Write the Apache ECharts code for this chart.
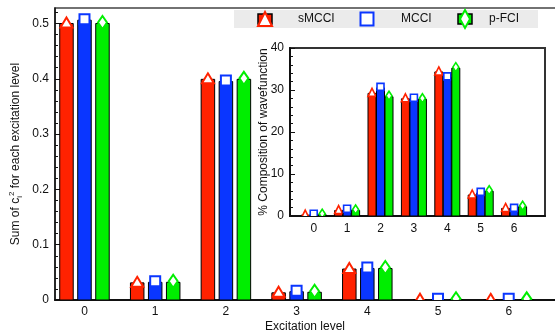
<!DOCTYPE html>
<html>
<head>
<meta charset="utf-8">
<script src="https://cdn.jsdelivr.net/npm/echarts@6/dist/echarts.min.js"></script>
<style>
  html, body { margin: 0; padding: 0; background: #fff; }
  #chart { width: 555px; height: 331px; }
</style>
</head>
<body>
<div id="chart"></div>
<script>
// Excitation levels (x categories)
const levels = [0, 1, 2, 3, 4, 5, 6];
const seriesNames = ['sMCCI', 'MCCI', 'p-FCI'];

// Sum of c_i^2 for each excitation level
const sumSMCCI = [0.500, 0.031, 0.399, 0.013, 0.056, 0.0005, 0.0003];
const sumMCCI  = [0.506, 0.032, 0.395, 0.015, 0.057, 0.0005, 0.0003];
const sumPFCI  = [0.500, 0.032, 0.399, 0.014, 0.057, 0.0005, 0.0003];

// % composition of the wavefunction (inset)
const pctSMCCI = [0.2, 1.3, 29.2, 27.9, 34.3, 5.0, 1.8];
const pctMCCI  = [0.3, 1.5, 30.5, 27.9, 33.0, 5.5, 1.7];
const pctPFCI  = [0.3, 1.3, 28.4, 27.8, 35.2, 5.9, 2.2];

const mainTicks  = [0, 0.1, 0.2, 0.3, 0.4, 0.5];
const insetTicks = [0, 10, 20, 30, 40];

const colors  = ['#ff2200', '#0a36ff', '#00ee00'];
const markers = ['triangle', 'rect', 'diamond'];
const FONT = '"Liberation Sans", Arial, Helvetica, sans-serif';

function markerEl(kind, cx, cy, s, color) {
  const style = { fill: '#fff', stroke: color, lineWidth: s.lw };
  if (kind === 'triangle') {
    return { type: 'polygon', shape: { points: [[cx, cy - s.th / 2], [cx + s.tw / 2, cy + s.th / 2], [cx - s.tw / 2, cy + s.th / 2]] }, style };
  }
  if (kind === 'rect') {
    return { type: 'rect', shape: { x: cx - s.sq / 2, y: cy - s.sq / 2, width: s.sq, height: s.sq }, style };
  }
  return { type: 'polygon', shape: { points: [[cx, cy - s.dh / 2], [cx + s.dw / 2, cy], [cx, cy + s.dh / 2], [cx - s.dw / 2, cy]] }, style };
}

// Bar with a hollow marker on its top, offset inside the group by series index
function barRenderer(si, barW, step, s) {
  return function (params, api) {
    const x = api.value(0), v = api.value(1);
    const base = api.coord([x, 0]);
    const top = api.coord([x, v]);
    const cx = base[0] + (si - 1) * step;
    return {
      type: 'group',
      children: [
        { type: 'rect', shape: { x: cx - barW / 2, y: top[1], width: barW, height: base[1] - top[1] },
          style: { fill: colors[si], stroke: '#000', lineWidth: 1 } },
        markerEl(markers[si], cx, top[1] - 1, s, colors[si])
      ]
    };
  };
}

const mainMk  = { tw: 12, th: 10, sq: 10, dw: 9, dh: 13, lw: 2 };
const insetMk = { tw: 8, th: 8, sq: 7, dw: 6, dh: 9, lw: 1.6 };

const mainSets  = [sumSMCCI, sumMCCI, sumPFCI];
const insetSets = [pctSMCCI, pctMCCI, pctPFCI];

const series = [];
mainSets.forEach((vals, si) => {
  series.push({
    type: 'custom', name: seriesNames[si], xAxisIndex: 0, yAxisIndex: 0, clip: true, z: 2,
    renderItem: barRenderer(si, 13.5, 18, mainMk),
    data: levels.map((l, i) => [l, vals[i]])
  });
});
insetSets.forEach((vals, si) => {
  series.push({
    type: 'custom', name: seriesNames[si], xAxisIndex: 1, yAxisIndex: 1, clip: true, z: 10,
    renderItem: barRenderer(si, 8, 8.5, insetMk),
    data: levels.map((l, i) => [l, vals[i]])
  });
});

// Legend strip
const legendIconX = [265, 367, 465];
const legendTextX = [298, 401, 489];
const legendChildren = [
  { type: 'rect', shape: { x: 234, y: 10, width: 304, height: 18 }, style: { fill: '#ebebeb' } }
];
seriesNames.forEach((name, si) => {
  const cx = legendIconX[si], cy = 19;
  if (si !== 1) {
    legendChildren.push({ type: 'rect', shape: { x: cx - 7, y: cy - 5, width: 14, height: 10 },
      style: { fill: colors[si], stroke: '#000', lineWidth: 1.5 } });
  }
  legendChildren.push(markerEl(markers[si], cx, cy, { tw: 14, th: 14, sq: 13, dw: 10, dh: 18, lw: 2 }, colors[si]));
  legendChildren.push({ type: 'text', x: legendTextX[si], y: cy,
    style: { text: name, fill: '#111', font: '12px ' + FONT, textVerticalAlign: 'middle' } });
});

const chart = echarts.init(document.getElementById('chart'), null, { renderer: 'canvas' });
chart.setOption({
  animation: false,
  backgroundColor: '#fff',
  textStyle: { fontFamily: FONT },
  grid: [
    { left: 55, top: 8, width: 510, height: 292, show: true, borderColor: '#444', borderWidth: 1.5,
      backgroundColor: 'transparent', z: 0, outerBoundsMode: 'none', containLabel: false },
    { left: 290, top: 48, width: 255, height: 168, show: true, borderColor: '#333', borderWidth: 2,
      backgroundColor: '#fff', z: 5, outerBoundsMode: 'none', containLabel: false }
  ],
  xAxis: [
    { type: 'value', gridIndex: 0, min: -0.417, max: 6.796,
      name: 'Excitation level', nameLocation: 'middle', nameGap: 21, nameMoveOverlap: false,
      nameTextStyle: { fontSize: 12, color: '#111', padding: [0, 10, 0, 0] },
      axisLine: { show: true, onZero: false, lineStyle: { color: '#111', width: 2 } },
      axisTick: { show: false },
      axisLabel: { customValues: levels, fontSize: 12, color: '#111', margin: 6 },
      splitLine: { show: false } },
    { type: 'value', gridIndex: 1, min: -0.71, max: 6.925, z: 6,
      axisLine: { show: true, onZero: false, lineStyle: { color: '#111', width: 2 } },
      axisTick: { show: false },
      axisLabel: { customValues: levels, fontSize: 12, color: '#111', margin: 7 },
      splitLine: { show: false } }
  ],
  yAxis: [
    { type: 'value', gridIndex: 0, min: 0, max: 0.528,
      name: 'Sum of c{sub|i}{sup|2} for each excitation level', nameLocation: 'middle', nameGap: 31,
      nameMoveOverlap: false,
      nameTextStyle: { fontSize: 12, color: '#111', lineHeight: 16,
        rich: { sub: { fontSize: 8, lineHeight: 8, verticalAlign: 'bottom', color: '#111' },
                sup: { fontSize: 8, lineHeight: 8, verticalAlign: 'top', color: '#111' } } },
      axisLine: { show: true, onZero: false, lineStyle: { color: '#111', width: 1.5 } },
      axisTick: { show: true, inside: true, length: 5, customValues: mainTicks, lineStyle: { color: '#111' } },
      minorTick: { show: true, splitNumber: 5, length: 3, lineStyle: { color: '#111' } },
      axisLabel: { customValues: mainTicks, fontSize: 12, color: '#111', margin: 6 },
      splitLine: { show: false } },
    { type: 'value', gridIndex: 1, min: 0, max: 40, interval: 10, z: 6,
      name: '% Composition of wavefunction', nameLocation: 'middle', nameGap: 20, nameMoveOverlap: false,
      nameTextStyle: { fontSize: 12, color: '#111' },
      axisLine: { show: true, onZero: false, lineStyle: { color: '#111', width: 2 } },
      axisTick: { show: true, inside: true, length: 5, lineStyle: { color: '#111' } },
      minorTick: { show: true, splitNumber: 5, length: 3, lineStyle: { color: '#111' } },
      axisLabel: { fontSize: 12, color: '#111', margin: 6 },
      splitLine: { show: false } }
  ],
  graphic: [{ type: 'group', z: 20, children: legendChildren }],
  series: series
});
</script>
</body>
</html>
